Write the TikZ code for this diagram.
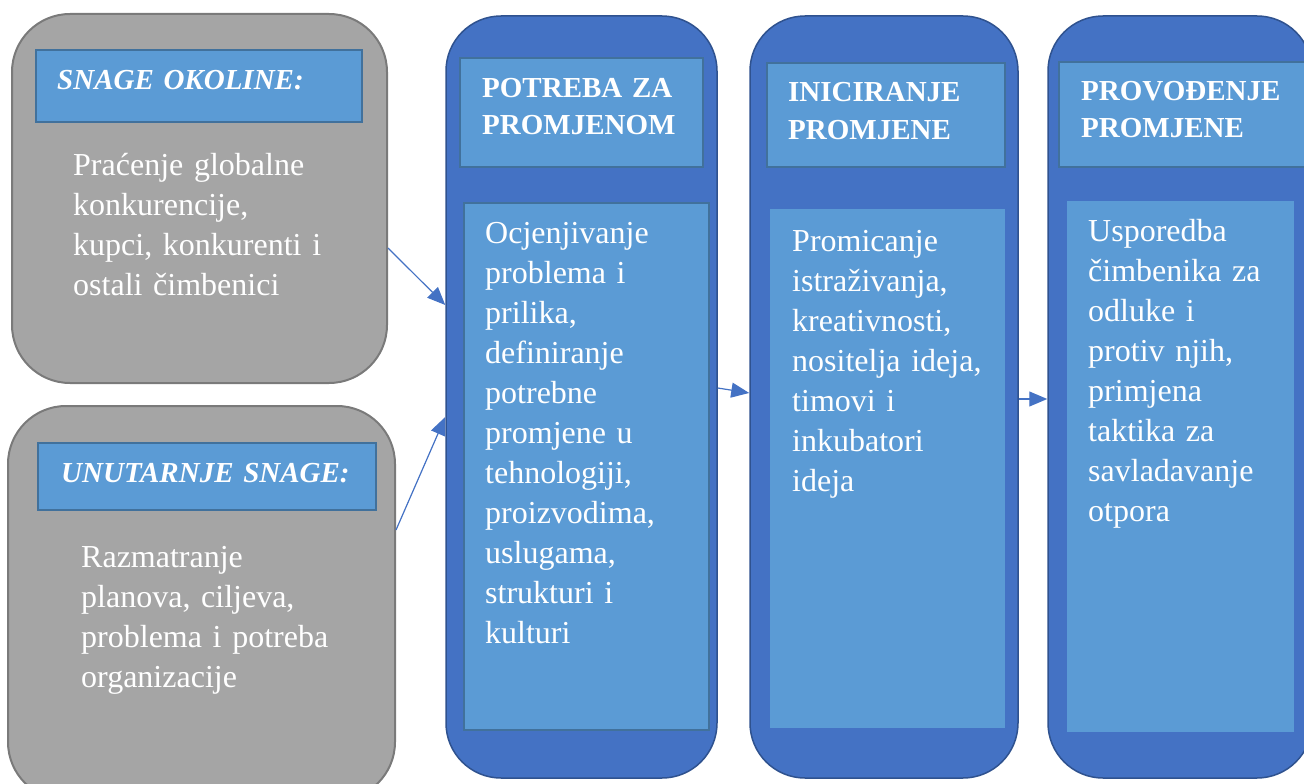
\documentclass[tikz,border=0pt]{standalone}
\usepackage{fontspec}
\setmainfont{Liberation Serif}
\usetikzlibrary{arrows.meta}
\definecolor{grayfill}{HTML}{A5A5A5}
\definecolor{grayedge}{HTML}{7A7A7A}
\definecolor{colfill}{HTML}{4472C4}
\definecolor{coledge}{HTML}{2F528F}
\definecolor{hdrfill}{HTML}{5B9BD5}
\definecolor{hdredge}{HTML}{41719C}
\tikzset{
  graybox/.style={draw=grayedge, fill=grayfill, line width=2pt, rounded corners=58pt, inner sep=0pt},
  colbox/.style={draw=coledge, fill=colfill, line width=1.5pt, rounded corners=55pt, inner sep=0pt},
  hdrbox/.style={draw=hdredge, fill=hdrfill, line width=2pt, inner sep=0pt},
  bodybox/.style={fill=hdrfill, inner sep=0pt},
  bodyedge/.style={draw=hdredge, line width=2pt},
  titletxt/.style={anchor=base west, inner sep=0pt, text=white, text width=300pt, align=left,
    font=\fontsize{29}{37}\selectfont\bfseries},
  ititletxt/.style={titletxt, font=\fontsize{29}{37}\selectfont\bfseries\itshape},
  bodytxt/.style={anchor=base west, inner sep=0pt, text=white, text width=330pt, align=left,
    font=\fontsize{32}{40}\selectfont},
  arr/.style={draw=colfill, line width=1.2pt, -{Triangle[length=18pt,width=15pt]}, fill=colfill}
}
\begin{document}
\begin{tikzpicture}[x=1pt,y=-1pt]
\useasboundingbox (0,0) rectangle (1304,784);
\clip (0,0) rectangle (1304,784);
% gray boxes
\node[graybox, minimum width=375pt, minimum height=369pt] (g1) at (199.5,198.5) {};
\node[graybox, minimum width=387pt, minimum height=394pt] (g2) at (201.5,603) {};
\node[hdrbox, minimum width=326pt, minimum height=72pt] (gh1) at (199,86) {};
\node[hdrbox, minimum width=338pt, minimum height=67pt] (gh2) at (207,476.5) {};
% columns
\node[colbox, minimum width=271pt, minimum height=762pt] (c1) at (581.5,397) {};
\node[colbox, minimum width=268pt, minimum height=762pt] (c2) at (884,397) {};
\node[colbox, minimum width=264pt, minimum height=762pt] (c3) at (1180,397) {};
\node[hdrbox, minimum width=243pt, minimum height=109pt] (h1) at (581.5,112.5) {};
\node[hdrbox, minimum width=238pt, minimum height=104pt] (h2) at (886,115) {};
\node[hdrbox, minimum width=256pt, minimum height=105pt] (h3) at (1187,114.5) {};
\node[bodybox, bodyedge, minimum width=245pt, minimum height=527pt] (b1) at (586.5,466.5) {};
\node[bodybox, minimum width=235pt, minimum height=519pt] (b2) at (887.5,468.5) {};
\node[bodybox, minimum width=227pt, minimum height=531pt] (b3) at (1180.5,466.5) {};
% texts
\node[ititletxt] (t1) at (57,89) {SNAGE OKOLINE:};
\node[bodytxt] (x1) at (73,175) {Praćenje globalne\\konkurencije,\\kupci, konkurenti i\\ostali čimbenici};
\node[ititletxt] (t2) at (61,482) {UNUTARNJE SNAGE:};
\node[bodytxt] (x2) at (81,567) {Razmatranje\\planova, ciljeva,\\problema i potreba\\organizacije};
\node[titletxt] (t3) at (482,97) {POTREBA ZA\\PROMJENOM};
\node[bodytxt] (x3) at (485,243) {Ocjenjivanje\\problema i\\prilika,\\definiranje\\potrebne\\promjene u\\tehnologiji,\\proizvodima,\\uslugama,\\strukturi i\\kulturi};
\node[titletxt] (t4) at (788,102) {INICIRANJE\\PROMJENE};
\node[bodytxt] (x4) at (792,251) {Promicanje\\istraživanja,\\kreativnosti,\\nositelja ideja,\\timovi i\\inkubatori\\ideja};
\node[titletxt] (t5) at (1081,100) {PROVOĐENJE\\PROMJENE};
\node[bodytxt] (x5) at (1088,241) {Usporedba\\čimbenika za\\odluke i\\protiv njih,\\primjena\\taktika za\\savladavanje\\otpora};
% arrows
\draw[arr] ([yshift=-49.5pt]g1.east) -- ([yshift=92pt]c1.west);
\draw[arr] ([yshift=73pt]g2.east) -- ([yshift=-20pt]c1.west);
\draw[arr] ([yshift=9pt]c1.east) -- ([yshift=4pt]c2.west);
\draw[arr] ([yshift=-2pt]c2.east) -- ([yshift=-2pt]c3.west);
\end{tikzpicture}
\end{document}
